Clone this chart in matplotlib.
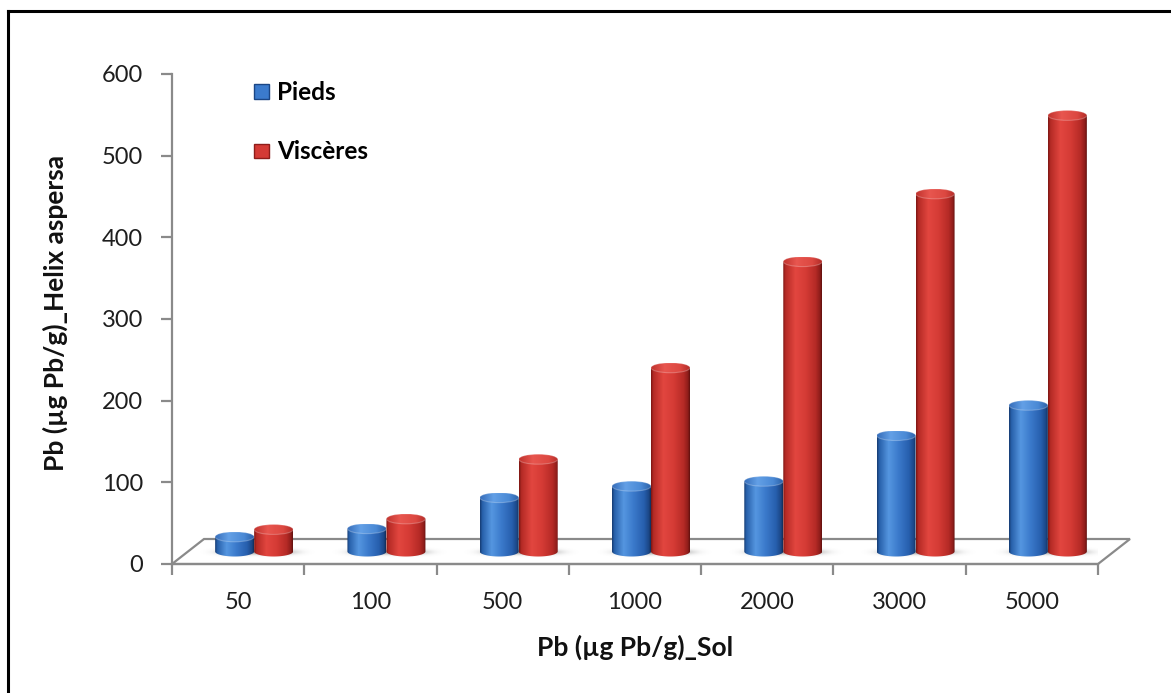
import numpy as np
import matplotlib
matplotlib.use("Agg")
import matplotlib.pyplot as plt
from matplotlib.patches import Polygon, Ellipse, PathPatch, Patch
from matplotlib.path import Path
from matplotlib.lines import Line2D
from matplotlib.colors import LinearSegmentedColormap

# ---- data ----
categories = ["50", "100", "500", "1000", "2000", "3000", "5000"]
pieds = [18, 28, 66, 80, 86, 142, 179]
visceres = [27, 40, 113, 225, 355, 438, 534]
series_names = ["Pieds", "Viscères"]
y_ticks = [0, 100, 200, 300, 400, 500, 600]
x_title = "Pb (µg Pb/g)_Sol"
y_title = "Pb (µg Pb/g)_Helix aspersa"

plt.rcParams["font.family"] = ["Lato", "DejaVu Sans"]

W, H = 1171, 693
fig = plt.figure(figsize=(W / 100, H / 100), dpi=100)
fig.patch.set_facecolor("white")

# plot area in pixels: x 172..1098, y 74..564
ax_l, ax_r, ax_t, ax_b = 172, 1098, 74, 564
ax = fig.add_axes([ax_l / W, 1 - ax_b / H, (ax_r - ax_l) / W, (ax_b - ax_t) / H])
n = len(categories)
ymax = y_ticks[-1]

px_x = (ax_r - ax_l) / n          # pixels per category
px_y = (ax_b - ax_t) / ymax       # pixels per value unit

# pseudo-3D geometry (converted from pixel sizes to data units)
floor_dx = 32 / px_x
floor_dy = 25 / px_y
mid_dx, mid_dy = floor_dx / 2, floor_dy / 2
bar_w = 39 / px_x
cap_h = 10 / px_y

axis_gray = "#8a8a8a"
text_col = "#1e1e1e"

# ---- floor ----
floor = Polygon([(0, 0), (n, 0), (n + floor_dx, floor_dy), (floor_dx, floor_dy)],
                closed=True, facecolor="white", edgecolor=axis_gray, lw=1.6,
                clip_on=False, zorder=1)
ax.add_patch(floor)

# soft shadows cast on the floor
gx = np.linspace(-1, 1, 240)
gy = np.linspace(-1, 1, 60)
GX, GY = np.meshgrid(gx, gy)
for k in range(n):
    cx = k + 0.5 + mid_dx + 0.02
    alpha = 0.75 * np.exp(-((GX / 0.62) ** 4 + (GY / 0.5) ** 2) * 1.4)
    rgba = np.zeros(GX.shape + (4,))
    rgba[..., :3] = 0.5
    rgba[..., 3] = alpha
    im = ax.imshow(rgba, extent=[cx - 0.5, cx + 0.5, mid_dy - 8, mid_dy + 6],
                   origin="lower", aspect="auto", interpolation="bilinear", zorder=2)
    im.set_clip_path(floor)
    im.set_clip_box(None)

# ---- cylinder colour ramps ----
blue_body = LinearSegmentedColormap.from_list("bb", [
    (0.00, "#153a70"), (0.06, "#2760aa"), (0.30, "#5596e0"), (0.55, "#3b7acb"),
    (0.82, "#275fae"), (0.95, "#1b4685"), (1.00, "#112d58")])
blue_top = LinearSegmentedColormap.from_list("bt", [
    (0.00, "#356cb9"), (0.35, "#63a0e6"), (0.75, "#4a89d5"), (1.00, "#2c61a8")])
red_body = LinearSegmentedColormap.from_list("rb", [
    (0.00, "#7a1512"), (0.06, "#b42a25"), (0.32, "#e2463f"), (0.58, "#d53b35"),
    (0.84, "#b52a26"), (0.95, "#8e1d1a"), (1.00, "#5e0f0d")])
red_top = LinearSegmentedColormap.from_list("rt", [
    (0.00, "#c0322d"), (0.35, "#e8564f"), (0.75, "#dc4841"), (1.00, "#b22b27")])

grad = np.linspace(0, 1, 256)[None, :]


def cylinder(xc, base, value, cmap_body, cmap_top, z):
    x0, x1 = xc - bar_w / 2, xc + bar_w / 2
    top = base + value
    t = np.linspace(np.pi, 2 * np.pi, 80)
    bx = xc + bar_w / 2 * np.cos(t)
    by = base + cap_h / 2 * np.sin(t)
    verts = [(x0, top)] + list(zip(bx, by)) + [(x1, top), (x0, top)]
    codes = [Path.MOVETO] + [Path.LINETO] * (len(verts) - 2) + [Path.CLOSEPOLY]
    body = PathPatch(Path(verts, codes), transform=ax.transData)
    im = ax.imshow(grad, cmap=cmap_body, extent=[x0, x1, base - cap_h, top],
                   origin="lower", aspect="auto", interpolation="bilinear", zorder=z)
    im.set_clip_path(body)
    cap = Ellipse((xc, top), bar_w, cap_h, transform=ax.transData)
    im2 = ax.imshow(grad, cmap=cmap_top,
                    extent=[x0, x1, top - cap_h / 2, top + cap_h / 2],
                    origin="lower", aspect="auto", interpolation="bilinear", zorder=z + 0.1)
    im2.set_clip_path(cap)
    rim = Ellipse((xc, top), bar_w, cap_h, facecolor="none",
                  edgecolor=(1, 1, 1, 0.25), lw=0.8, zorder=z + 0.2)
    ax.add_patch(rim)


z = 3
for k in range(n):
    cx = k + 0.5 + mid_dx
    cylinder(cx - bar_w / 2, mid_dy, pieds[k], blue_body, blue_top, z)
    z += 1
    cylinder(cx + bar_w / 2, mid_dy, visceres[k], red_body, red_top, z)
    z += 1

# ---- axes styling ----
ax.set_xlim(0, n)
ax.set_ylim(0, ymax)
ax.set_facecolor("none")
for s in ("top", "right"):
    ax.spines[s].set_visible(False)
for s in ("left", "bottom"):
    ax.spines[s].set_color(axis_gray)
    ax.spines[s].set_linewidth(1.6)
    ax.spines[s].set_zorder(1.5)

ax.set_yticks(y_ticks)
ax.set_yticklabels([str(v) for v in y_ticks])
ax.tick_params(axis="y", direction="out", length=8, width=1.6, color=axis_gray,
               pad=13, labelsize=17, labelcolor=text_col)

ax.set_xticks(np.arange(n + 1))
ax.set_xticklabels([""] * (n + 1))
ax.set_xticks(np.arange(n) + 0.5, minor=True)
ax.set_xticklabels(categories, minor=True)
ax.tick_params(axis="x", which="major", direction="out", length=8, width=1.6,
               color=axis_gray)
ax.tick_params(axis="x", which="minor", length=0, pad=20, labelsize=17,
               labelcolor=text_col)

ax.set_xlabel(x_title, fontsize=19, fontweight="bold", color="#111111")
ax.xaxis.set_label_coords(0.5, (ax_b - 647) / (ax_b - ax_t))
ax.xaxis.label.set_va("center")
ax.set_ylabel(y_title, fontsize=19, fontweight="bold", color="#111111")
ax.yaxis.set_label_coords((55 - ax_l) / (ax_r - ax_l), (ax_b - 313) / (ax_b - ax_t))
ax.yaxis.label.set_va("center")

# ---- legend ----
handles = [Patch(facecolor="#3b7bcd", edgecolor="#1b4685", lw=1.0),
           Patch(facecolor="#d43a35", edgecolor="#8e1d1a", lw=1.0)]
leg = ax.legend(handles, series_names, loc="upper left",
                bbox_to_anchor=(254 / W, 1 - 81 / H), bbox_transform=fig.transFigure,
                frameon=False, prop={"weight": "bold", "size": 17.5},
                handlelength=0.62, handleheight=0.55, handletextpad=0.33,
                labelspacing=1.5, borderpad=0, borderaxespad=0)

# ---- outer frame ----
fig.add_artist(Line2D([8 / W, 8 / W], [0, 1 - 11 / H], transform=fig.transFigure,
                      color="black", lw=2.2))
fig.add_artist(Line2D([8 / W, 1], [1 - 11 / H, 1 - 11 / H], transform=fig.transFigure,
                      color="black", lw=2.2))

fig.savefig("out.png", dpi=100)
